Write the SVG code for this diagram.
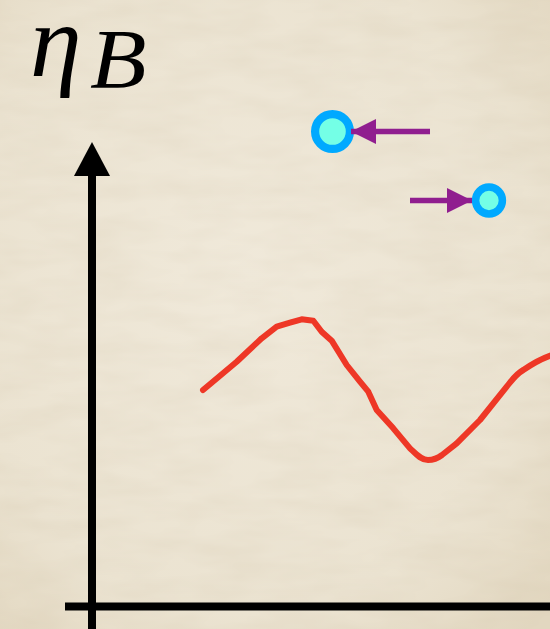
<svg xmlns="http://www.w3.org/2000/svg" width="550" height="629" viewBox="0 0 550 629">
<defs>
<radialGradient id="bg" cx="0.45" cy="0.45" r="0.75">
<stop offset="0" stop-color="#F0E9DA"/>
<stop offset="0.7" stop-color="#EBE3D1"/>
<stop offset="1" stop-color="#E2D7C0"/>
</radialGradient>
<filter id="tex" x="0" y="0" width="1" height="1">
<feTurbulence type="fractalNoise" baseFrequency="0.015 0.05" numOctaves="3" seed="4" result="n"/>
<feColorMatrix in="n" type="matrix" values="0 0 0 0 0.55  0 0 0 0 0.45  0 0 0 0 0.3  0 0 0 0.22 -0.07"/>
</filter>
<marker id="ah" viewBox="0 0 10 10" refX="10" refY="5" markerUnits="userSpaceOnUse" markerWidth="25" markerHeight="25" orient="auto">
<path d="M0,0 L10,5 L0,10 Z" fill="#901E8F"/>
</marker>
<style>
.axis{stroke:#000;stroke-width:8;fill:none}
.arrow{stroke:#901E8F;stroke-width:5.5;fill:none}
.curve{stroke:#EE3726;stroke-width:6;fill:none;stroke-linecap:round;stroke-linejoin:round}
.ring{stroke:#00A9FF;fill:#74FFE6}
.lbl{font-family:"Liberation Serif","DejaVu Serif",serif;font-style:italic;fill:#000}
</style>
</defs>
<rect width="550" height="629" fill="url(#bg)"/>
<rect width="550" height="629" filter="url(#tex)"/>
<g id="label">
<text class="lbl" x="30" y="76" font-size="104">η</text>
<text class="lbl" x="90" y="88" font-size="84" transform="translate(90 0) scale(1.1 1) translate(-90 0)">B</text>
</g>
<g id="axes">
<line class="axis" x1="92" y1="172" x2="92" y2="629"/>
<polygon points="92,142 74,176 110,176" fill="#000"/>
<line class="axis" x1="65" y1="606.5" x2="550" y2="606.5"/>
</g>
<g id="wave">
<path class="curve" d="M203,390 L211.7,382.7 L236.7,361.7 L261.7,338.3 L276.7,326.7 L290,322.7 L301.7,319.3 L313.3,320.7 L321.7,331.7 L331.7,340.7 L346.7,365 L360,381.7 L368.3,391.7 L376.7,410 L393.3,428.3 L410,448.3 C416,454 421,460 428,460 C434,460 438,458 442,455 L456.7,443.3 L480,420 L506.7,386.7 C512,380 516,374 523.3,370 C532,364 540,359 552,355"/>
</g>
<g id="particle1">
<circle class="ring" cx="332.5" cy="131.5" r="17.4" stroke-width="8.2"/>
</g>
<g id="particle2">
<circle class="ring" cx="489" cy="200.5" r="13.4" stroke-width="7.5"/>
</g>
<g id="connectors">
<line class="arrow" x1="430" y1="131.5" x2="351" y2="131.5" marker-end="url(#ah)"/>
<line class="arrow" x1="410" y1="200.5" x2="472" y2="200.5" marker-end="url(#ah)"/>
</g>
</svg>
